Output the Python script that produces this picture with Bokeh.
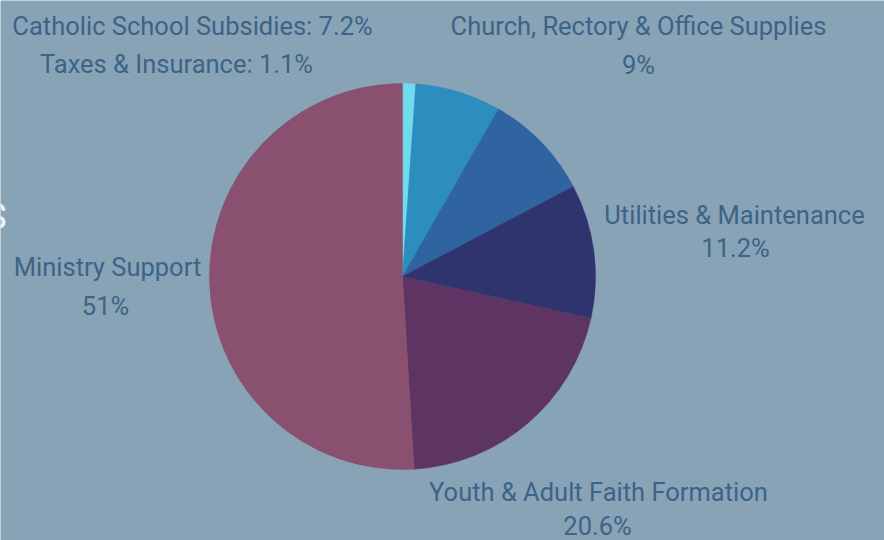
import numpy as np
from bokeh.plotting import figure
from bokeh.models import Range1d, ColumnDataSource
from bokeh.core.properties import value
from bokeh.embed import file_html
from bokeh.resources import INLINE

# ---- data ----
categories = ["Taxes & Insurance", "Catholic School Subsidies", "Church, Rectory & Office Supplies",
              "Utilities & Maintenance", "Youth & Adult Faith Formation", "Ministry Support"]
shares = [1.1, 7.2, 9, 11.2, 20.6, 51]
colors = ["#6fdcec", "#2e8dbf", "#2f64a0", "#2f346f", "#5e3462", "#89506f"]

# label texts (single-line labels have an empty second line)
label_line1 = ["Taxes & Insurance: 1.1%", "Catholic School Subsidies: 7.2%", "Church, Rectory & Office Supplies",
               "Utilities & Maintenance", "Youth & Adult Faith Formation", "Ministry Support"]
label_line2 = ["", "", "9%", "11.2%", "20.6%", "51%"]

# ---- layout (pixel coordinates, measured from the top-left corner) ----
W, H = 884, 540
BG = "#88a3b6"
TXT = "#3d6386"
cx, cy, R = 402, 276, 193
lab_x1 = [176, 192, 638, 734, 598, 107]
lab_y1 = [63, 25, 25, 214, 491, 266]
lab_x2 = [None, None, 638, 735, 597, 105]
lab_y2 = [None, None, 64, 247, 525, 305]

vals = np.array(shares, dtype=float)
frac = vals / vals.sum()
cum = np.concatenate([[0], np.cumsum(frac)])
start = np.pi / 2 - cum[:-1] * 2 * np.pi
end = np.pi / 2 - cum[1:] * 2 * np.pi

p = figure(width=W, height=H, output_backend="svg", toolbar_location=None,
           x_range=Range1d(0, W), y_range=Range1d(0, H), min_border=0)
p.axis.visible = False
p.grid.visible = False
p.outline_line_color = None
p.background_fill_color = BG
p.border_fill_color = BG

src = ColumnDataSource(dict(x=[cx] * len(vals), y=[H - cy] * len(vals), s=start, e=end, c=colors))
p.wedge(x="x", y="y", radius=R, start_angle="s", end_angle="e", direction="clock",
        fill_color="c", line_color="c", line_width=0.5, source=src)

font = value("Roboto")
FS = "25.5px"
p.text(x=lab_x1, y=[H - y for y in lab_y1], text=label_line1, text_font=font, text_font_size=FS,
       text_color=TXT, text_align="center", text_baseline="middle")
x2 = [x for x, t in zip(lab_x2, label_line2) if t]
y2 = [H - y for y, t in zip(lab_y2, label_line2) if t]
t2 = [t for t in label_line2 if t]
p.text(x=x2, y=y2, text=t2, text_font=font, text_font_size=FS,
       text_color=TXT, text_align="center", text_baseline="middle")

# clipped letter of an outside heading at the left edge
p.text(x=[6], y=[H - 216], text=["S"], text_font=font, text_font_size="36px",
       text_color="#eef3f6", text_align="right", text_baseline="middle")

open("out.html", "w").write(file_html(p, INLINE))
